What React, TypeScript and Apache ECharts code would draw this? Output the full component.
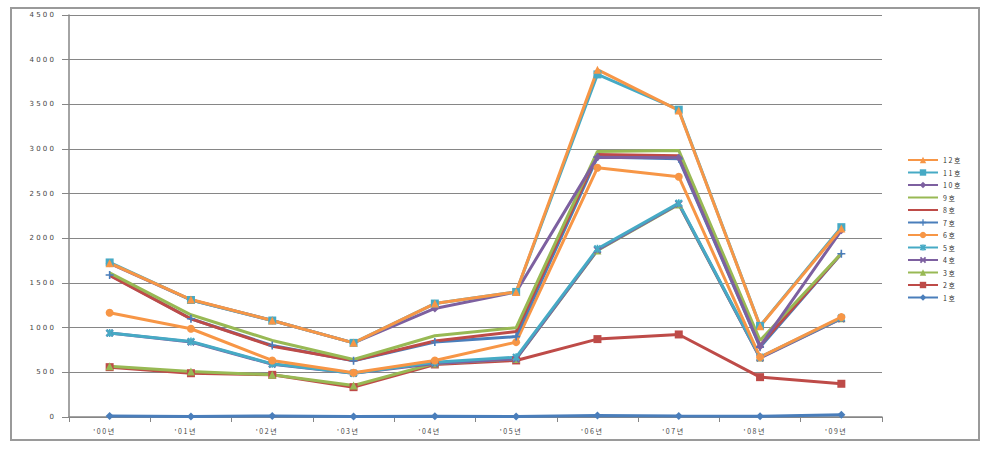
import React, { useEffect, useRef } from "react";
import * as echarts from "echarts";

const categories = ["'00", "'01", "'02", "'03", "'04", "'05", "'06", "'07", "'08", "'09"];
const seriesNames = ["1호", "2호", "3호", "4호", "5호", "6호", "7호", "8호", "9호", "10호", "11호", "12호"];

const s1 = [10, 5, 12, 5, 8, 5, 18, 10, 8, 25];
const s2 = [558, 490, 472, 334, 588, 633, 872, 924, 446, 372];
const s3 = [569, 510, 472, 353, 600, 650, 1865, 2380, 665, 1105];
const s4 = [940, 840, 590, 490, 600, 650, 1870, 2385, 660, 1100];
const s5 = [939, 845, 595, 490, 614, 670, 1883, 2394, 670, 1110];
const s6 = [1167, 988, 633, 495, 633, 838, 2790, 2690, 670, 1118];
const s7 = [1590, 1100, 800, 630, 840, 900, 2910, 2890, 782, 1827];
const s8 = [1585, 1099, 793, 633, 850, 957, 2939, 2925, 800, 1830];
const s9 = [1614, 1144, 857, 644, 909, 1000, 2973, 2984, 857, 1830];
const s10 = [1720, 1310, 1080, 830, 1215, 1400, 2909, 2902, 790, 2090];
const s11 = [1730, 1310, 1080, 830, 1270, 1400, 3835, 3440, 1020, 2125];
const s12 = [1722, 1315, 1080, 830, 1270, 1400, 3888, 3432, 1017, 2110];

const allData = [s1, s2, s3, s4, s5, s6, s7, s8, s9, s10, s11, s12];
const colors = ["#4A7EBB", "#BE4B48", "#98B954", "#7D60A0", "#46AAC5", "#F79646", "#4A7EBB", "#BE4B48", "#98B954", "#7D60A0", "#46AAC5", "#F79646"];
const xPath = "path://M0,2L2,0L5,3L8,0L10,2L7,5L10,8L8,10L5,7L2,10L0,8L3,5Z";
const starPath = "path://M0,2L2,0L5,3L8,0L10,2L7,5L10,8L8,10L5,7L2,10L0,8L3,5ZM4,0L6,0L6,10L4,10Z";
const plusPath = "path://M4,0L6,0L6,4L10,4L10,6L6,6L6,10L4,10L4,6L0,6L0,4L4,4Z";
const symbols = ["diamond", "rect", "triangle", xPath, starPath, "circle", plusPath, "none", "none", "diamond", "rect", "triangle"];

const spaced = (s: string) => s.split("").join(" ");

export default function App() {
  const ref = useRef<HTMLDivElement>(null);
  useEffect(() => {
    document.body.style.margin = "0";
    const chart = echarts.init(ref.current!, undefined, { renderer: "svg" });
    chart.setOption({
      animation: false,
      backgroundColor: "#ffffff",
      graphic: [
        {
          type: "rect",
          shape: { x: 11, y: 8, width: 968, height: 432 },
          style: { fill: "none", stroke: "#9a9a9a", lineWidth: 2 },
          silent: true,
          z: -1,
        },
      ],
      legend: {
        orient: "vertical",
        left: 902,
        top: 151,
        itemWidth: 30,
        itemHeight: 8,
        itemGap: 4.5,
        textStyle: { fontSize: 7, color: "#333", fontFamily: "Noto Sans CJK KR", lineHeight: 8 },
        data: seriesNames
          .map((n, i) => (symbols[i] === "none" ? { name: n, itemStyle: { opacity: 0 } } : { name: n }))
          .reverse(),
        formatter: (n: string) => spaced(n),
      },
      grid: { left: 69, right: 108, top: 15, bottom: 41 },
      xAxis: {
        type: "category",
        data: categories,
        boundaryGap: true,
        axisLine: { lineStyle: { color: "#868686", width: 1.5 } },
        axisTick: { show: true, length: 5, lineStyle: { color: "#868686" } },
        axisLabel: {
          formatter: (v: string) => spaced(v) + " 년",
          fontSize: 7,
          color: "#444",
          fontFamily: "Noto Sans CJK KR",
          margin: 10,
          padding: [0, 12, 0, 0],
        },
      },
      yAxis: {
        type: "value",
        min: 0,
        max: 4500,
        interval: 500,
        axisLine: { show: true, lineStyle: { color: "#868686", width: 1.5 } },
        axisTick: { show: true, length: 7, lineStyle: { color: "#868686" } },
        axisLabel: {
          formatter: (v: number) => spaced(String(v)),
          fontSize: 7,
          color: "#444",
          fontFamily: "DejaVu Sans",
          margin: 15,
        },
        splitLine: { lineStyle: { color: "#868686", width: 1.2 } },
      },
      series: allData.map((d, i) => ({
        name: seriesNames[i],
        type: "line",
        data: d,
        symbol: symbols[i],
        symbolSize: 8,
        showSymbol: symbols[i] !== "none",
        lineStyle: { color: colors[i], width: 3 },
        itemStyle: { color: colors[i] },
        emphasis: { disabled: true },
      })),
    });
    return () => chart.dispose();
  }, []);
  return <div ref={ref} style={{ width: 990, height: 458 }} />;
}
